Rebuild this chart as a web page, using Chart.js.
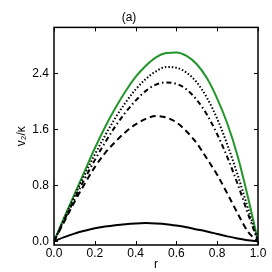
<!DOCTYPE html>
<html>
<head>
<meta charset="utf-8">
<script src="https://cdn.jsdelivr.net/npm/chart.js@4/dist/chart.umd.min.js"></script>
<style>
  html, body { margin: 0; padding: 0; background: #fff; }
  #wrap { width: 272px; height: 272px; }
</style>
</head>
<body>
<div id="wrap"><canvas id="c" width="272" height="272"></canvas></div>
<script>
// radial position
const rVals = [0, 0.05, 0.1, 0.15, 0.2, 0.25, 0.3, 0.35, 0.4, 0.45, 0.5,
               0.55, 0.6, 0.65, 0.7, 0.75, 0.8, 0.85, 0.9, 0.95, 1.0];

// v2/kappa curves
const solidBlack = [0, 0.06, 0.11, 0.15, 0.185, 0.21, 0.23, 0.245, 0.255, 0.26, 0.255,
                    0.245, 0.225, 0.2, 0.17, 0.14, 0.105, 0.07, 0.04, 0.015, 0];
const dashed     = [0, 0.28, 0.56, 0.82, 1.06, 1.26, 1.42, 1.56, 1.67, 1.75, 1.79,
                    1.77, 1.7, 1.57, 1.4, 1.18, 0.95, 0.68, 0.4, 0.14, 0];
const dashDot    = [0, 0.3, 0.6, 0.89, 1.16, 1.41, 1.64, 1.84, 2.01, 2.15, 2.24,
                    2.27, 2.25, 2.17, 2.02, 1.81, 1.53, 1.2, 0.82, 0.4, 0];
const dotted     = [0, 0.32, 0.64, 0.95, 1.24, 1.51, 1.76, 1.98, 2.17, 2.32, 2.43,
                    2.49, 2.48, 2.41, 2.27, 2.05, 1.75, 1.38, 0.95, 0.48, 0];
const green      = [0, 0.34, 0.67, 1.0, 1.33, 1.63, 1.9, 2.14, 2.35, 2.51, 2.63,
                    2.69, 2.7, 2.65, 2.53, 2.33, 2.04, 1.68, 1.22, 0.64, 0];

const xTicks = [0, 0.2, 0.4, 0.6, 0.8, 1.0];
const yTicks = [0, 0.8, 1.6, 2.4];

const font = "'Liberation Sans', Arial, sans-serif";

const toPts = ys => ys.map((y, i) => ({ x: rVals[i], y: y }));

const line = (data, color, dash) => ({
    data: toPts(data),
    borderColor: color,
    borderWidth: 2,
    borderDash: dash,
    pointRadius: 0,
    fill: false,
    cubicInterpolationMode: "monotone"
});

// inward ticks on all four sides plus the frame
const frameTicks = {
    id: "frameTicks",
    afterDraw(chart) {
        const { ctx, chartArea: a, scales } = chart;
        ctx.save();
        ctx.strokeStyle = "#000";
        ctx.lineWidth = 1;
        ctx.beginPath();
        xTicks.forEach(v => {
            const px = Math.round(scales.x.getPixelForValue(v)) + 0.5;
            ctx.moveTo(px, a.bottom); ctx.lineTo(px, a.bottom - 4);
            ctx.moveTo(px, a.top); ctx.lineTo(px, a.top + 4);
        });
        yTicks.forEach(v => {
            const py = Math.round(scales.y.getPixelForValue(v)) + 0.5;
            ctx.moveTo(a.left, py); ctx.lineTo(a.left + 4, py);
            ctx.moveTo(a.right, py); ctx.lineTo(a.right - 4, py);
        });
        ctx.stroke();
        ctx.lineWidth = 1.5;
        ctx.strokeRect(a.left, a.top, a.right - a.left, a.bottom - a.top);
        ctx.restore();
    }
};

new Chart(document.getElementById("c"), {
    type: "line",
    data: {
        datasets: [
            line(solidBlack, "#000", []),
            line(dashed, "#000", [6, 4]),
            line(dashDot, "#000", [5, 3, 1.5, 3]),
            line(dotted, "#000", [1.5, 2]),
            line(green, "#22962a", [])
        ]
    },
    options: {
        responsive: false,
        animation: false,
        layout: { padding: { left: 0, right: 14, top: 0, bottom: 0 } },
        plugins: {
            legend: { display: false },
            tooltip: { enabled: false },
            title: {
                display: true,
                text: "(a)",
                color: "#000",
                font: { family: font, size: 12, weight: "normal" },
                padding: { top: 10, bottom: 3 }
            }
        },
        scales: {
            x: {
                type: "linear",
                min: 0,
                max: 1,
                afterBuildTicks: s => { s.ticks = xTicks.map(v => ({ value: v })); },
                afterFit: s => { s.height = 27; },
                grid: { display: false, drawTicks: false },
                border: { display: false },
                ticks: {
                    color: "#000",
                    font: { family: font, size: 12 },
                    padding: 1,
                    maxRotation: 0,
                    callback: v => v.toFixed(1)
                },
                title: {
                    display: true,
                    text: "r",
                    color: "#000",
                    font: { family: font, size: 12 },
                    padding: { top: 0, bottom: 0 }
                }
            },
            y: {
                min: -0.053,
                max: 3.057,
                afterBuildTicks: s => { s.ticks = yTicks.map(v => ({ value: v })); },
                afterFit: s => { s.width = 54; },
                grid: { display: false, drawTicks: false },
                border: { display: false },
                ticks: {
                    color: "#000",
                    font: { family: font, size: 12 },
                    padding: 5,
                    callback: v => v.toFixed(1)
                },
                title: {
                    display: true,
                    text: "v\u2082/\u03ba",
                    color: "#000",
                    font: { family: font, size: 12 },
                    padding: { top: 14, bottom: 0 }
                }
            }
        }
    },
    plugins: [frameTicks]
});
</script>
</body>
</html>
